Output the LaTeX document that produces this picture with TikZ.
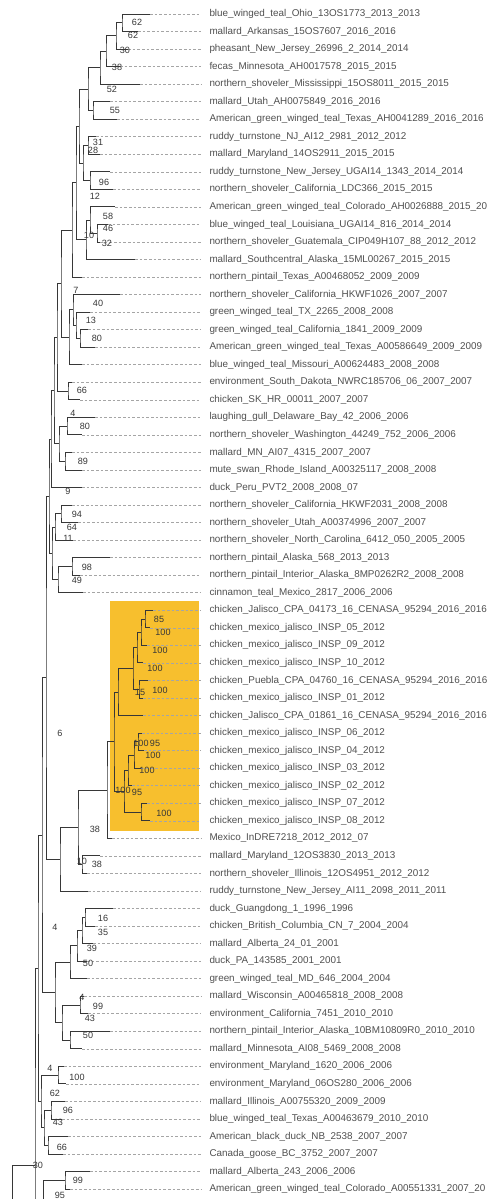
\documentclass[tikz,border=0pt]{standalone}
\usepackage{fontspec}
\setmainfont{Liberation Sans}
\usetikzlibrary{calc}

\definecolor{hilite}{RGB}{247,191,46}
\definecolor{branchgray}{RGB}{55,55,55}
\definecolor{leadgray}{RGB}{165,165,165}
\definecolor{labgray}{RGB}{80,80,80}

\tikzset{every picture/.style={line width=0.75pt},
  branch/.style={draw=branchgray, line width=0.75pt},
  leader/.style={draw=leadgray, line width=0.5pt, dash pattern=on 2pt off 1.5pt},
  taxon/.style={anchor=west, inner sep=0pt, text=labgray, font=\fontsize{7.4}{8}\selectfont},
  boot/.style={inner sep=0pt, text=branchgray, font=\fontsize{6.8}{7}\selectfont}}

\begin{document}
\begin{tikzpicture}[x=0.75pt,y=0.75pt,yscale=-1,xscale=1]

\useasboundingbox (0,0) rectangle (490,1199);
\clip (0,0) rectangle (490,1199);
\fill[white] (0,0) rectangle (490,1199);

%Highlight Rect
\fill[hilite] (110,601) rectangle (199,831);

% Leaves: tip coordinate, label, dashed leader
\foreach \i/\tx/\lab in {
 1/150/blue\_winged\_teal\_Ohio\_13OS1773\_2013\_2013,
 2/138/mallard\_Arkansas\_15OS7607\_2016\_2016,
 3/128/pheasant\_New\_Jersey\_26996\_2\_2014\_2014,
 4/120/fecas\_Minnesota\_AH0017578\_2015\_2015,
 5/140/northern\_shoveler\_Mississippi\_15OS8011\_2015\_2015,
 6/110/mallard\_Utah\_AH0075849\_2016\_2016,
 7/117/American\_green\_winged\_teal\_Texas\_AH0041289\_2016\_2016,
 8/96/ruddy\_turnstone\_NJ\_AI12\_2981\_2012\_2012,
 9/100/mallard\_Maryland\_14OS2911\_2015\_2015,
 10/110/ruddy\_turnstone\_New\_Jersey\_UGAI14\_1343\_2014\_2014,
 11/113/northern\_shoveler\_California\_LDC366\_2015\_2015,
 12/115/American\_green\_winged\_teal\_Colorado\_AH0026888\_2015\_20,
 13/108/blue\_winged\_teal\_Louisiana\_UGAI14\_816\_2014\_2014,
 14/100/northern\_shoveler\_Guatemala\_CIP049H107\_88\_2012\_2012,
 15/135/mallard\_Southcentral\_Alaska\_15ML00267\_2015\_2015,
 16/82/northern\_pintail\_Texas\_A00468052\_2009\_2009,
 17/120/northern\_shoveler\_California\_HKWF1026\_2007\_2007,
 18/90/green\_winged\_teal\_TX\_2265\_2008\_2008,
 19/88/green\_winged\_teal\_California\_1841\_2009\_2009,
 20/95/American\_green\_winged\_teal\_Texas\_A00586649\_2009\_2009,
 21/82/blue\_winged\_teal\_Missouri\_A00624483\_2008\_2008,
 22/72/environment\_South\_Dakota\_NWRC185706\_06\_2007\_2007,
 23/80/chicken\_SK\_HR\_00011\_2007\_2007,
 24/95/laughing\_gull\_Delaware\_Bay\_42\_2006\_2006,
 25/82/northern\_shoveler\_Washington\_44249\_752\_2006\_2006,
 26/72/mallard\_MN\_AI07\_4315\_2007\_2007,
 27/82/mute\_swan\_Rhode\_Island\_A00325117\_2008\_2008,
 28/82/duck\_Peru\_PVT2\_2008\_2008\_07,
 29/72/northern\_shoveler\_California\_HKWF2031\_2008\_2008,
 30/78/northern\_shoveler\_Utah\_A00374996\_2007\_2007,
 31/73/northern\_shoveler\_North\_Carolina\_6412\_050\_2005\_2005,
 32/110/northern\_pintail\_Alaska\_568\_2013\_2013,
 33/80/northern\_pintail\_Interior\_Alaska\_8MP0262R2\_2008\_2008,
 34/83/cinnamon\_teal\_Mexico\_2817\_2006\_2006,
 35/153/chicken\_Jalisco\_CPA\_04173\_16\_CENASA\_95294\_2016\_2016,
 36/150/chicken\_mexico\_jalisco\_INSP\_05\_2012,
 37/147/chicken\_mexico\_jalisco\_INSP\_09\_2012,
 38/143/chicken\_mexico\_jalisco\_INSP\_10\_2012,
 39/148/chicken\_Puebla\_CPA\_04760\_16\_CENASA\_95294\_2016\_2016,
 40/143/chicken\_mexico\_jalisco\_INSP\_01\_2012,
 41/143/chicken\_Jalisco\_CPA\_01861\_16\_CENASA\_95294\_2016\_2016,
 42/142/chicken\_mexico\_jalisco\_INSP\_06\_2012,
 43/144/chicken\_mexico\_jalisco\_INSP\_04\_2012,
 44/141/chicken\_mexico\_jalisco\_INSP\_03\_2012,
 45/132/chicken\_mexico\_jalisco\_INSP\_02\_2012,
 46/147/chicken\_mexico\_jalisco\_INSP\_07\_2012,
 47/150/chicken\_mexico\_jalisco\_INSP\_08\_2012,
 48/112/Mexico\_InDRE7218\_2012\_2012\_07,
 49/100/mallard\_Maryland\_12OS3830\_2013\_2013,
 50/87/northern\_shoveler\_Illinois\_12OS4951\_2012\_2012,
 51/88/ruddy\_turnstone\_New\_Jersey\_AI11\_2098\_2011\_2011,
 52/113/duck\_Guangdong\_1\_1996\_1996,
 53/95/chicken\_British\_Columbia\_CN\_7\_2004\_2004,
 54/93/mallard\_Alberta\_24\_01\_2001,
 55/87/duck\_PA\_143585\_2001\_2001,
 56/87/green\_winged\_teal\_MD\_646\_2004\_2004,
 57/84/mallard\_Wisconsin\_A00465818\_2008\_2008,
 58/88/environment\_California\_7451\_2010\_2010,
 59/110/northern\_pintail\_Interior\_Alaska\_10BM10809R0\_2010\_2010,
 60/82/mallard\_Minnesota\_AI08\_5469\_2008\_2008,
 61/64/environment\_Maryland\_1620\_2006\_2006,
 62/66/environment\_Maryland\_06OS280\_2006\_2006,
 63/65/mallard\_Illinois\_A00755320\_2009\_2009,
 64/62/blue\_winged\_teal\_Texas\_A00463679\_2010\_2010,
 65/68/American\_black\_duck\_NB\_2538\_2007\_2007,
 66/63/Canada\_goose\_BC\_3752\_2007\_2007,
 67/90/mallard\_Alberta\_243\_2006\_2006,
 68/70/American\_green\_winged\_teal\_Colorado\_A00551331\_2007\_20}{
  \pgfmathsetmacro\ly{14+(\i-1)*17.54}
  \coordinate (l\i) at (\tx,\ly);
  \node[taxon] (t\i) at (209,\ly) {\lab};
  \draw[leader] (l\i) -- ([xshift=-6pt]t\i.west);
}

% continuation below the frame
\coordinate (off1) at (60,1544);
\coordinate (off2) at (30,1600);

% Clades: name / x / child / child
\foreach \n/\cx/\a/\b in {
 a1/122/l1/l2, a2/116/a1/l3, a3/106/a2/l4, a4/100/a3/l5,
 a5/93/l6/l7, a6/88/a4/a5, a7/88/l8/l9, a8/90/l10/l11,
 a9/83/a7/a8, a10/79/a6/a9, b1/97/l13/l14, b2/90/l12/b1,
 b3/86/b2/l15, b4/76/a10/b3, b5/72/b4/l16,
 c1/80/l19/l20, c2/76/l18/c1, c3/73/l17/c2, c4/69/c3/l21,
 d1/61/b5/c4, e1/68/l22/l23, e2/67/l24/l25, e3/65/l26/l27,
 e4/59/e2/e3, e5/57/d1/e1, e6/54/e5/e4, e7/51/e6/l28,
 h1/61/l29/l30, h2/55/h1/l31, i1/72/l32/l33, i2/58/i1/l34,
 h3/52/h2/i2, e8/49/e7/h3,
 k1/145/l35/l36, k2/141/k1/l37, k3/137/k2/l38, k4/139/l39/l40,
 k5/133/k3/k4, k6/118/k5/l41, m1/138/l42/l43, m2/134/m1/l44,
 m3/141/l46/l47, m4/128/m2/l45, m5/124/m4/m3, k7/114/k6/m5,
 k8/107/k7/l48, n1/82/l49/l50, n2/78/k8/n1, n3/60/n2/l51,
 s1/46/e8/n3,
 o1/85/l52/l53, o2/82/o1/l54, o3/77/o2/l55, o4/70/o3/l56,
 p1/80/l57/l58, p2/70/l59/l60, p3/62/p1/p2, o5/55/o4/p3,
 s2/42/s1/o5,
 q1/58/l61/l62, q2/51/l63/l64, q3/48/l65/l66, q4/44/q2/q3,
 q5/41/q1/q4, s3/38/s2/q5,
 r1/65/l67/l68, r2/43/r1/off1, t1/35/s3/r2, root/12/t1/off2}{
  \coordinate (mid) at ($(\a)!0.5!(\b)$);
  \coordinate (\n) at (mid -| \cx,0);
  \draw[branch] (\a) -| (\n) |- (\b);
}

% Support values
\foreach \bx/\by/\bv [count=\k] in {
 137/22/62, 133/35/62, 125/50/30, 117/67/38, 112/89/52, 115/110/55,
 98/142/31, 93/150/28, 104/182/96, 95/196/12, 108/216/58, 108/228/46,
 107/243/32, 89/235/10, 76/290/7, 98/303/40, 91/320/13, 97/338/80,
 82/390/66, 73/413/4, 85/426/80, 83/461/89, 68/491/9, 77/514/94,
 72/527/64, 68/538/11, 87/567/98, 77/580/49, 159/619/85, 163/632/100,
 160/650/100, 155/668/100, 160/690/100, 140/692/15, 60/733/6,
 141/743/100, 155/743/95, 153/755/100, 147/770/100, 123/790/100,
 137/792/95, 164/813/100, 95/829/38, 82/861/10, 97/864/38,
 103/918/16, 103/932/35, 55/927/4, 92/948/39, 88/963/50, 82/997/4,
 98/1006/99, 90/1018/43, 88/1035/50, 50/1068/4, 77/1077/100,
 55/1093/62, 68/1110/96, 58/1122/43, 62/1147/66, 38/1165/30,
 78/1180/99, 60/1195/95}{
  \node[boot] (bs\k) at (\bx,\by) {\bv};
}

\end{tikzpicture}
\end{document}
